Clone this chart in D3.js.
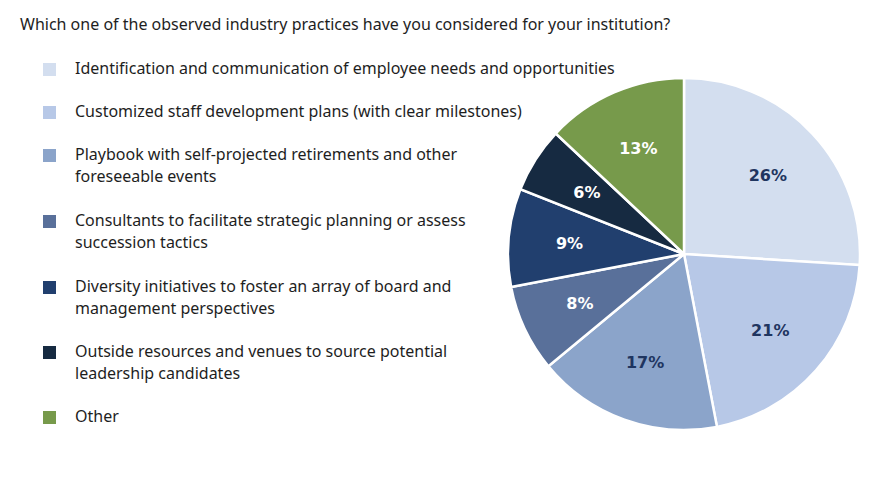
<!DOCTYPE html>
<html>
<head>
<meta charset="utf-8">
<script src="https://cdn.jsdelivr.net/npm/d3@7"></script>
<style>
  body { margin: 0; background: #fff; }
  svg text { font-family: "Noto Sans", sans-serif; }
</style>
</head>
<body>
<svg id="chart" width="876" height="477"></svg>
<script>
// data
var title = 'Which one of the observed industry practices have you considered for your institution?'
var categories = [
    ['Identification and communication of employee needs and opportunities'],
    ['Customized staff development plans (with clear milestones)'],
    ['Playbook with self-projected retirements and other', 'foreseeable events'],
    ['Consultants to facilitate strategic planning or assess', 'succession tactics'],
    ['Diversity initiatives to foster an array of board and', 'management perspectives'],
    ['Outside resources and venues to source potential', 'leadership candidates'],
    ['Other']
]
var values = [26, 21, 17, 8, 9, 6, 13]
var colors = ['#d3deef', '#b7c8e7', '#8ba4ca', '#59709a', '#213f6e', '#162a41', '#779a4b']
var labelColors = ['#1f3560', '#1f3560', '#1f3560', '#fff', '#fff', '#fff', '#fff']
var legendY = [69, 112, 155, 221, 287, 352, 417]

var svg = d3.select('#chart')

svg.append('text')
    .attr('x', 20)
    .attr('y', 30)
    .attr('font-size', '16px')
    .attr('fill', '#1e1e1e')
    .text(title)

// legend
var legend = svg.selectAll('.legend')
    .data(categories)
    .enter().append('g')
    .attr('class', 'legend')
    .attr('transform', function(d, i){ return 'translate(0,' + legendY[i] + ')' })

legend.append('rect')
    .attr('x', 43)
    .attr('y', -6)
    .attr('width', 13)
    .attr('height', 13)
    .attr('fill', function(d, i){ return colors[i] })

legend.each(function(lines){
    var t = d3.select(this).append('text')
        .attr('font-size', '16px')
        .attr('fill', '#1e1e1e')
    lines.forEach(function(line, j){
        t.append('tspan')
            .attr('x', 75)
            .attr('y', 5 + j * 22)
            .text(line)
    })
})

// pie
var cx = 684, cy = 254, r = 176
var pie = d3.pie().sort(null)
var arc = d3.arc().innerRadius(0).outerRadius(r)
var labelArc = d3.arc().innerRadius(115 * 2 - r).outerRadius(r)

var g = svg.append('g').attr('transform', 'translate(' + cx + ',' + cy + ')')

var slices = g.selectAll('.slice')
    .data(pie(values))
    .enter().append('g')
    .attr('class', 'slice')

slices.append('path')
    .attr('d', arc)
    .attr('fill', function(d, i){ return colors[i] })
    .attr('stroke', '#fff')
    .attr('stroke-width', 2.5)

slices.append('text')
    .attr('transform', function(d){ return 'translate(' + labelArc.centroid(d) + ')' })
    .attr('text-anchor', 'middle')
    .attr('dy', '0.36em')
    .attr('font-size', '16px')
    .attr('font-weight', 'bold')
    .style('font-family', '"DejaVu Sans", sans-serif')
    .attr('fill', function(d, i){ return labelColors[i] })
    .text(function(d){ return d.data + '%' })
</script>
</body>
</html>
